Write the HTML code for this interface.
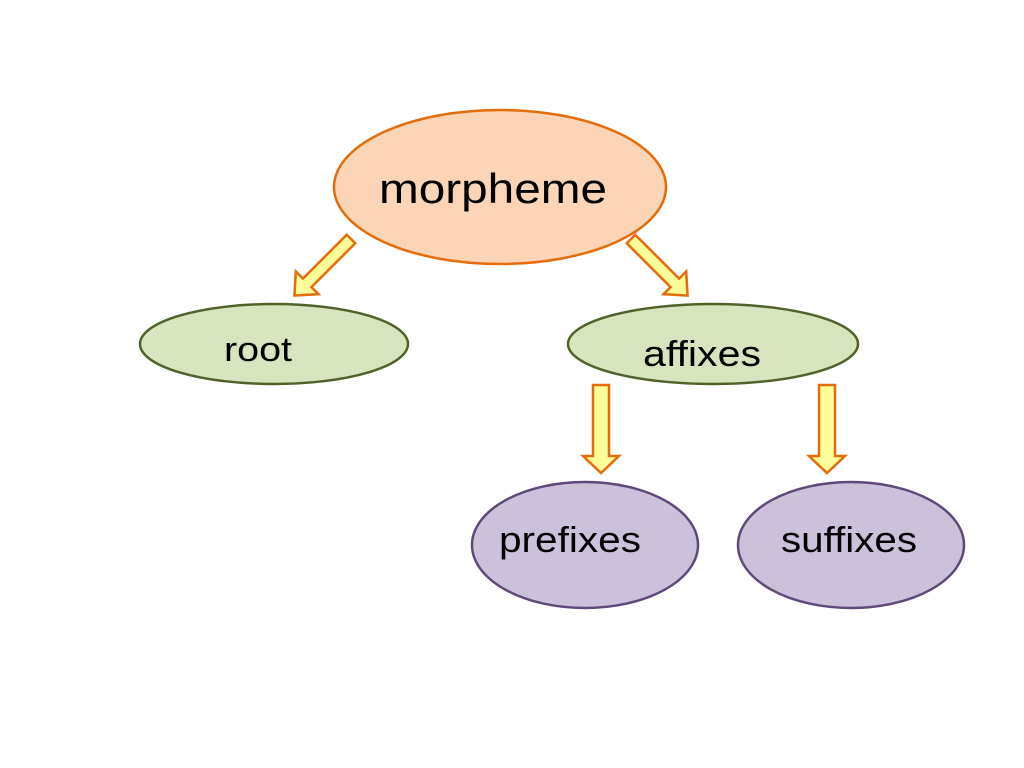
<!DOCTYPE html>
<html><head><meta charset="utf-8"><style>
html,body{margin:0;padding:0;background:#fff;width:1024px;height:768px;overflow:hidden}
svg{display:block}
text{font-family:"Liberation Sans",sans-serif;fill:#000}
</style></head><body>
<svg width="1024" height="768" viewBox="0 0 1024 768">
<defs>
<polygon id="arr" points="-6,0 6,0 6,62 16,62 0,80 -16,62 -6,62" fill="#ffff99" stroke="#e46c0a" stroke-width="2.5" stroke-linejoin="miter"/>
</defs>
<ellipse cx="500" cy="187" rx="166" ry="77" fill="#fbd5b5" stroke="#e46c0a" stroke-width="2.5"/>
<text x="493" y="203" font-size="42" text-anchor="middle" textLength="228" lengthAdjust="spacingAndGlyphs">morpheme</text>

<use href="#arr" transform="translate(351,239) rotate(45)"/>
<use href="#arr" transform="translate(631,239) rotate(-45)"/>

<ellipse cx="274" cy="344" rx="134" ry="40" fill="#d7e4bd" stroke="#4f6228" stroke-width="2.5"/>
<text x="258" y="361" font-size="34" text-anchor="middle" textLength="68" lengthAdjust="spacingAndGlyphs">root</text>

<ellipse cx="713" cy="344" rx="145" ry="40" fill="#d7e4bd" stroke="#4f6228" stroke-width="2.5"/>
<text x="702" y="366" font-size="36" text-anchor="middle" textLength="118" lengthAdjust="spacingAndGlyphs">affixes</text>

<polygon points="593,385 609,385 609,456 619,456 601,473 583,456 593,456" fill="#ffff99" stroke="#e46c0a" stroke-width="2.5"/>
<polygon points="819,385 835,385 835,456 845,456 827,473 809,456 819,456" fill="#ffff99" stroke="#e46c0a" stroke-width="2.5"/>

<ellipse cx="585" cy="545" rx="113" ry="63" fill="#ccc1da" stroke="#5f497a" stroke-width="2.5"/>
<text x="570" y="552" font-size="36" text-anchor="middle" textLength="142" lengthAdjust="spacingAndGlyphs">prefixes</text>

<ellipse cx="851" cy="545" rx="113" ry="63" fill="#ccc1da" stroke="#5f497a" stroke-width="2.5"/>
<text x="849" y="552" font-size="36" text-anchor="middle" textLength="136" lengthAdjust="spacingAndGlyphs">suffixes</text>
</svg>
</body></html>
